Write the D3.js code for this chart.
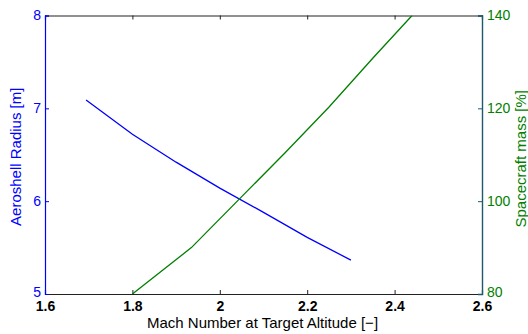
<!DOCTYPE html>
<html>
<head>
<meta charset="utf-8">
<script src="https://cdn.jsdelivr.net/npm/d3@7"></script>
<style>
  body { margin: 0; background: #fff; }
  svg { display: block; font-family: "Liberation Sans", Arial, sans-serif; }
</style>
</head>
<body>
<svg id="chart" width="528" height="334"></svg>
<script>
// Aeroshell radius (left axis) versus Mach number
const radiusMach = [1.694, 1.8, 1.9, 2.0, 2.1, 2.2, 2.3];
const radiusValues = [7.09, 6.72, 6.42, 6.14, 5.88, 5.61, 5.365];

// Spacecraft mass (right axis) versus Mach number
const massMach = [1.8, 1.935, 2.04, 2.15, 2.25, 2.35, 2.44];
const massValues = [80, 90, 100, 110.5, 120.3, 130.8, 140];

const xTicks = [1.6, 1.8, 2, 2.2, 2.4, 2.6];
const leftTicks = [5, 6, 7, 8];
const rightTicks = [80, 100, 120, 140];

const xTitle = "Mach Number at Target Altitude [\u2212]";
const leftTitle = "Aeroshell Radius [m]";
const rightTitle = "Spacecraft mass [%]";

const blue = "#0000ff";
const green = "#008000";

const W = 528, H = 334;
const m = { left: 45, right: 46, top: 15.5, bottom: 40 };
const pw = W - m.left - m.right, ph = H - m.top - m.bottom;

const svg = d3.select("#chart");
const g = svg.append("g").attr("transform", `translate(${m.left},${m.top})`);

const x = d3.scaleLinear().domain([1.6, 2.6]).range([0, pw]);
const yL = d3.scaleLinear().domain([5, 8]).range([ph, 0]);
const yR = d3.scaleLinear().domain([80, 140]).range([ph, 0]);

const tickLen = 4;
const fmt = d => String(d);
const font = "Liberation Sans, Arial, sans-serif";

// clip the curves to the plot box
svg.append("defs").append("clipPath").attr("id", "plotClip")
  .append("rect").attr("width", pw).attr("height", ph);

// top edge with inward ticks
const axTop = g.append("g").call(d3.axisTop(x).tickValues(xTicks).tickSize(-tickLen).tickFormat(""));
// bottom axis
const axBottom = g.append("g").attr("transform", `translate(0,${ph})`)
  .call(d3.axisBottom(x).tickValues(xTicks).tickSize(-tickLen).tickPadding(7).tickFormat(fmt));
// left axis
const axLeft = g.append("g").call(d3.axisLeft(yL).tickValues(leftTicks).tickSize(-tickLen).tickPadding(4).tickFormat(fmt));
// right axis
const axRight = g.append("g").attr("transform", `translate(${pw},0)`)
  .call(d3.axisRight(yR).tickValues(rightTicks).tickSize(-tickLen).tickPadding(5).tickFormat(fmt));

[axTop, axBottom].forEach(a => {
  a.select(".domain").attr("stroke", "#222").attr("stroke-width", 1.2);
  a.selectAll(".tick line").attr("stroke", "#222");
});
axBottom.selectAll(".tick text").attr("fill", "#000").attr("font-size", 14)
  .attr("font-weight", "bold").attr("font-family", font);
axLeft.select(".domain").attr("stroke", blue).attr("stroke-width", 1.2);
axLeft.selectAll(".tick line").attr("stroke", blue);
axLeft.selectAll(".tick text").attr("fill", blue).attr("font-size", 14).attr("font-family", font);
axRight.select(".domain").attr("stroke", "#1e5a6e").attr("stroke-width", 1.4);
axRight.selectAll(".tick line").attr("stroke", "#1e5a6e");
axRight.selectAll(".tick text").attr("fill", green).attr("font-size", 14).attr("font-family", font);

// lowest y labels sit just above the x tick labels in the corners
axLeft.selectAll(".tick text").filter(d => d === leftTicks[0]).attr("dy", "0.2em");
axRight.selectAll(".tick text").filter(d => d === rightTicks[0]).attr("dy", "0.2em");

const plot = g.append("g").attr("clip-path", "url(#plotClip)");

const radiusLine = d3.line().x((d, i) => x(radiusMach[i])).y(d => yL(d));
plot.append("path").datum(radiusValues)
  .attr("d", radiusLine).attr("fill", "none").attr("stroke", blue).attr("stroke-width", 1.3);

const massLine = d3.line().x((d, i) => x(massMach[i])).y(d => yR(d));
plot.append("path").datum(massValues)
  .attr("d", massLine).attr("fill", "none").attr("stroke", green).attr("stroke-width", 1.3);

// axis titles
g.append("text").attr("x", pw / 2 - 1).attr("y", ph + 34).attr("text-anchor", "middle")
  .attr("font-size", 15).attr("fill", "#000").text(xTitle);
g.append("text").attr("transform", `translate(${-24},${ph / 2 + 2}) rotate(-90)`)
  .attr("text-anchor", "middle").attr("font-size", 15).attr("fill", blue).text(leftTitle);
g.append("text").attr("transform", `translate(${pw + 44},${ph / 2 + 4}) rotate(-90)`)
  .attr("text-anchor", "middle").attr("font-size", 15).attr("fill", green).text(rightTitle);
</script>
</body>
</html>
